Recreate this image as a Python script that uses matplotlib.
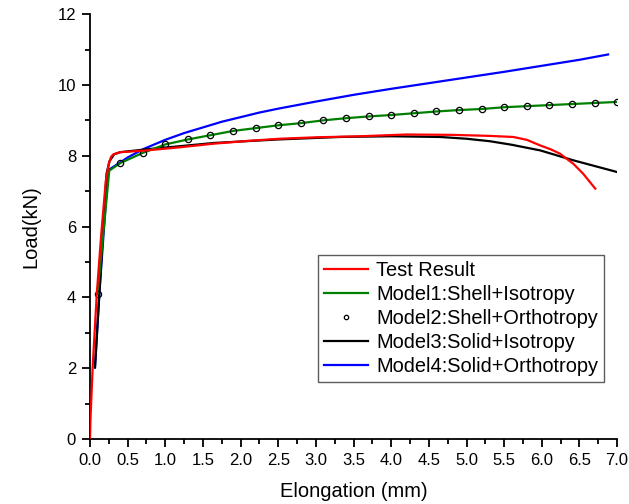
import matplotlib
matplotlib.use("Agg")
import matplotlib.pyplot as plt
from matplotlib.ticker import MultipleLocator, FormatStrFormatter

plt.rcParams['font.family'] = ['Liberation Sans', 'DejaVu Sans']

# Test result
test_x = [0.0, 0.005, 0.035, 0.09, 0.15, 0.21, 0.25, 0.28, 0.31, 0.40, 0.75, 1.2, 1.64, 2.1, 2.52, 3.0,
          3.59, 4.2, 4.8, 5.31, 5.62, 5.8, 5.98, 6.12, 6.24, 6.42, 6.55, 6.71]
test_y = [0.0, 0.5, 2.02, 4.1, 5.8, 7.3, 7.78, 7.97, 8.04, 8.10, 8.15, 8.24, 8.34, 8.42, 8.48, 8.52,
          8.55, 8.60, 8.59, 8.56, 8.53, 8.45, 8.29, 8.18, 8.06, 7.77, 7.49, 7.07]

# Model1: Shell + Isotropy
m1_x = [0.1, 0.256, 0.4, 0.7, 1.0, 1.3, 1.6, 1.9, 2.2, 2.5, 2.8, 3.1, 3.4, 3.7, 4.0, 4.3, 4.6,
        4.9, 5.2, 5.5, 5.8, 6.1, 6.4, 6.7, 7.0]
m1_y = [4.1, 7.58, 7.79, 8.08, 8.32, 8.46, 8.58, 8.70, 8.78, 8.86, 8.92, 9.00, 9.06, 9.11, 9.15,
        9.20, 9.25, 9.29, 9.32, 9.37, 9.40, 9.43, 9.46, 9.49, 9.52]

# Model2: Shell + Orthotropy (markers)
m2_x = [0.1, 0.4, 0.7, 1.0, 1.3, 1.6, 1.9, 2.2, 2.5, 2.8, 3.1, 3.4, 3.7, 4.0, 4.3, 4.6,
        4.9, 5.2, 5.5, 5.8, 6.1, 6.4, 6.7, 7.0]
m2_y = [4.1, 7.79, 8.08, 8.32, 8.46, 8.58, 8.70, 8.78, 8.86, 8.92, 9.00, 9.06, 9.11, 9.15,
        9.20, 9.25, 9.29, 9.32, 9.37, 9.40, 9.43, 9.46, 9.49, 9.51]

# Model3: Solid + Isotropy
m3_x = [0.066, 0.124, 0.22, 0.26, 0.32, 0.40, 0.7, 1.0, 1.64, 2.5, 3.32, 4.0, 4.65, 5.0, 5.31,
        5.6, 5.98, 6.42, 7.0]
m3_y = [2.02, 4.1, 7.5, 7.85, 8.04, 8.10, 8.17, 8.23, 8.36, 8.46, 8.53, 8.55, 8.53, 8.48, 8.41,
        8.31, 8.15, 7.87, 7.54]

# Model4: Solid + Orthotropy
m4_x = [0.066, 0.124, 0.24, 0.5, 0.7, 1.0, 1.25, 1.5, 1.75, 2.0, 2.25, 2.5, 2.75, 3.0, 3.5, 4.0,
        4.5, 5.0, 5.5, 6.0, 6.5, 6.88]
m4_y = [2.02, 4.1, 7.59, 7.95, 8.18, 8.45, 8.64, 8.80, 8.96, 9.09, 9.22, 9.33, 9.43, 9.53, 9.72,
        9.89, 10.05, 10.21, 10.37, 10.54, 10.71, 10.86]

fig = plt.figure(figsize=(6.29, 5.04), dpi=100)
ax = fig.add_axes([0.1431, 0.129, 0.838, 0.843])

ax.plot(test_x, test_y, color='#ff0000', lw=1.6, label='Test Result', zorder=5)
ax.plot(m1_x, m1_y, color='#008000', lw=1.6, label='Model1:Shell+Isotropy', zorder=3)
ax.plot(m2_x, m2_y, ls='none', marker='o', ms=4.5, mfc='none', mec='black', mew=0.9,
        label='Model2:Shell+Orthotropy', zorder=4)
ax.plot(m3_x, m3_y, color='black', lw=1.6, label='Model3:Solid+Isotropy', zorder=2)
ax.plot(m4_x, m4_y, color='#0000ff', lw=1.6, label='Model4:Solid+Orthotropy', zorder=1)

ax.set_xlim(0, 7.0)
ax.set_ylim(0, 12)
ax.xaxis.set_major_locator(MultipleLocator(0.5))
ax.xaxis.set_minor_locator(MultipleLocator(0.25))
ax.xaxis.set_major_formatter(FormatStrFormatter('%.1f'))
ax.yaxis.set_major_locator(MultipleLocator(2))
ax.yaxis.set_minor_locator(MultipleLocator(1))

for s in ['top', 'right']:
    ax.spines[s].set_visible(False)
for s in ['left', 'bottom']:
    ax.spines[s].set_linewidth(1.3)
ax.tick_params(which='major', direction='out', length=6, width=1.3, labelsize=12, pad=4)
ax.tick_params(which='minor', direction='out', length=3.5, width=1.3)

ax.set_xlabel('Elongation (mm)', fontsize=14.5, labelpad=10)
ax.set_ylabel('Load(kN)', fontsize=14.5, labelpad=12)

leg = ax.legend(loc='lower right', bbox_to_anchor=(0.975, 0.134), borderaxespad=0,
                fontsize=14.4, frameon=True, fancybox=False, handlelength=2.2,
                handletextpad=0.4, labelspacing=0.25, borderpad=0.3, markerscale=0.7)
leg.get_frame().set_edgecolor('#333333')
leg.get_frame().set_linewidth(1.0)

fig.savefig('out.png', dpi=100)
